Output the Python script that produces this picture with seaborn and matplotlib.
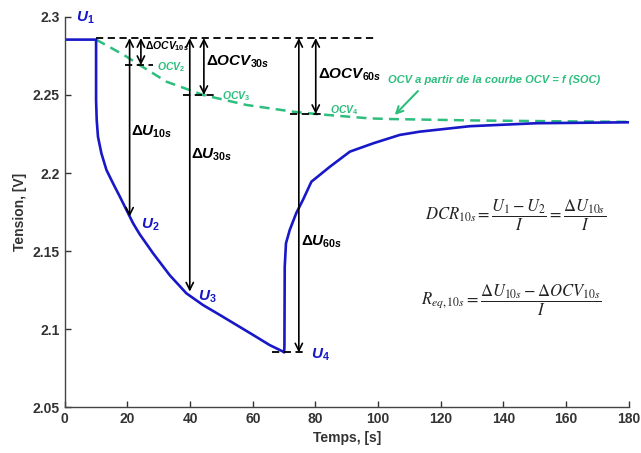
import numpy as np
import pandas as pd
import matplotlib
matplotlib.use("Agg")
import matplotlib.pyplot as plt
import seaborn as sns

# measured voltage during the pulse test
t_u = [0, 10, 10.0, 10.2, 10.6, 11.7, 13.3, 15.4, 17.6, 19.7, 21.8, 23.9, 28.2, 33.5, 38.8,
       44.1, 49.5, 54.8, 60.1, 65.4, 69.7, 70.0,
       70.1, 70.2, 70.6, 71.8, 73.9, 76.0, 78.7, 84.6, 91, 98.4, 106.9, 113.3, 129.3, 150.5, 180]
u = [2.2855, 2.2855, 2.2468, 2.234, 2.2233, 2.2126, 2.202, 2.1934, 2.1848, 2.1763, 2.1678,
     2.1608, 2.1485, 2.1345, 2.1229, 2.1154, 2.109, 2.1026, 2.0962, 2.0897, 2.0855, 2.0850,
     2.0887, 2.14, 2.155, 2.1635, 2.1744, 2.1827, 2.1944, 2.204, 2.2137, 2.219, 2.2244,
     2.2265, 2.230, 2.2319, 2.2325]

# OCV from the OCV = f(SOC) curve
t_ocv = [10, 15, 19.7, 23.9, 32.5, 44.2, 58, 72.9, 80.3, 97.3, 103.7, 130, 155, 180]
ocv = [2.2855, 2.280, 2.2746, 2.2692, 2.2585, 2.25, 2.2436, 2.2393, 2.2378, 2.235, 2.2346,
       2.2337, 2.2332, 2.2328]

# reference levels and arrows
u1 = 2.2865
ocv_levels = [2.2692, 2.25, 2.2378]
ocv_spans = [(19.2, 28.1), (37.7, 48.5), (71.8, 82.3)]
u4_level = 2.085
u4_span = (66, 76.6)
du_arrows = [(20.7, 2.172), (39.9, 2.124), (74.7, 2.085)]
docv_arrows = [(24.3, 2.2692), (44.4, 2.25), (80.1, 2.2378)]

xticks = [0, 20, 40, 60, 80, 100, 120, 140, 160, 180]
yticks = [2.05, 2.1, 2.15, 2.2, 2.25, 2.3]
ytick_labels = ["2.05", "2.1", "2.15", "2.2", "2.25", "2.3"]

blue = "#1818c8"
green = "#2dbe7e"

sns.set_theme(style="ticks")
plt.rcParams["font.family"] = ["Liberation Sans", "DejaVu Sans"]
plt.rcParams["mathtext.fontset"] = "custom"
plt.rcParams["mathtext.it"] = "Liberation Sans:italic:bold"
plt.rcParams["mathtext.rm"] = "Liberation Sans:bold"
plt.rcParams["mathtext.bf"] = "Liberation Sans:bold"

fig = plt.figure(figsize=(6.41, 4.53), dpi=100)
ax = fig.add_axes([0.101, 0.1015, 0.880, 0.861])

df_u = pd.DataFrame({"t": t_u, "u": u})
df_ocv = pd.DataFrame({"t": t_ocv, "ocv": ocv})

sns.lineplot(data=df_ocv, x="t", y="ocv", ax=ax, color=green, lw=1.8,
             linestyle=(0, (4, 2.5)), sort=False, estimator=None)
sns.lineplot(data=df_u, x="t", y="u", ax=ax, color=blue, lw=1.9, sort=False, estimator=None)

# dashed reference lines
ax.plot([10, 99], [u1, u1], color="black", lw=1.3, linestyle=(0, (4, 2.5)))
for lvl, (a, b) in zip(ocv_levels, ocv_spans):
    ax.plot([a, b], [lvl, lvl], color="black", lw=1.3, linestyle=(0, (4, 2.5)))
ax.plot(u4_span, [u4_level, u4_level], color="black", lw=1.3, linestyle=(0, (4, 2.5)))

for x, y in du_arrows + docv_arrows:
    ax.annotate("", xy=(x, y), xytext=(x, u1),
                arrowprops=dict(arrowstyle="<->", color="black", lw=1.2,
                                mutation_scale=13, shrinkA=0, shrinkB=0))


def lbl(s):
    return r"$\mathit{" + s + "}$"


# point labels
ax.text(3.5, 2.2995, lbl("U_1"), color=blue, fontsize=11, va="center")
ax.text(24.3, 2.1665, lbl("U_2"), color=blue, fontsize=11, va="center")
ax.text(42.5, 2.1205, lbl("U_3"), color=blue, fontsize=11, va="center")
ax.text(78.5, 2.0833, lbl("U_4"), color=blue, fontsize=11, va="center")

ax.text(25.5, 2.2815, lbl(r"\Delta OCV_{10s}"), color="black", fontsize=7.5, va="center")
ax.text(29.3, 2.268, lbl("OCV_2"), color=green, fontsize=7.5, va="center")
ax.text(45.2, 2.2712, lbl(r"\Delta OCV_{30s}"), color="black", fontsize=11, va="center")
ax.text(50.1, 2.2494, lbl("OCV_3"), color=green, fontsize=7.5, va="center")
ax.text(80.8, 2.2628, lbl(r"\Delta OCV_{60s}"), color="black", fontsize=11, va="center")
ax.text(84.6, 2.2404, lbl("OCV_4"), color=green, fontsize=7.5, va="center")

ax.text(21.3, 2.2263, lbl(r"\Delta U_{10s}"), color="black", fontsize=11, va="center")
ax.text(40.2, 2.2115, lbl(r"\Delta U_{30s}"), color="black", fontsize=11, va="center")
ax.text(75.3, 2.1558, lbl(r"\Delta U_{60s}"), color="black", fontsize=11, va="center")

ax.text(103, 2.2596, "OCV a partir de la courbe OCV = f (SOC)", color=green,
        fontsize=8, fontweight="bold", fontstyle="italic", va="center")
ax.annotate("", xy=(105.3, 2.2372), xytext=(112.7, 2.2525),
            arrowprops=dict(arrowstyle="->", color=green, lw=1.5, mutation_scale=12,
                            shrinkA=0, shrinkB=0))

# equations
ax.text(144, 2.173, r"$DCR_{10s} = \dfrac{U_1 - U_2}{I} = \dfrac{\Delta U_{10s}}{I}$",
        math_fontfamily="stix", fontsize=12, ha="center", va="center", color="#222222")
ax.text(142.5, 2.1186, r"$R_{eq,10s} = \dfrac{\Delta U_{10s} - \Delta OCV_{10s}}{I}$",
        math_fontfamily="stix", fontsize=12, ha="center", va="center", color="#222222")

ax.set_xlim(0, 180)
ax.set_ylim(2.05, 2.3)
ax.set_xticks(xticks)
ax.set_yticks(yticks)
ax.set_yticklabels(ytick_labels)
ax.set_xlabel("Temps, [s]", fontsize=10, fontweight="bold", color="#333333")
ax.set_ylabel("Tension, [V]", fontsize=10, fontweight="bold", color="#333333")
ax.tick_params(direction="in", length=4, width=1, colors="#333333", labelsize=10)
for lab in ax.get_xticklabels() + ax.get_yticklabels():
    lab.set_fontweight("bold")
sns.despine(ax=ax)
for s in ["left", "bottom"]:
    ax.spines[s].set_color("#444444")
    ax.spines[s].set_linewidth(1.0)

fig.savefig("out.png", dpi=100)
